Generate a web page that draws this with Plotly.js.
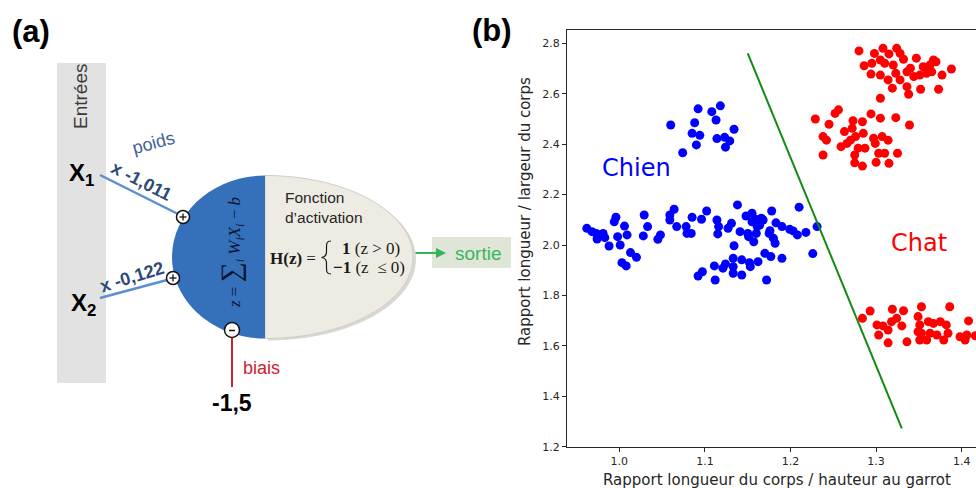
<!DOCTYPE html>
<html>
<head>
<meta charset="utf-8">
<script src="https://cdn.plot.ly/plotly-3.0.1.min.js"></script>
<style>html,body{margin:0;padding:0;background:#fff;overflow:hidden}#chart{width:976px;height:488px}</style>
</head>
<body>
<div id="chart"></div>
<script>
// ---------- Data (panel b) ----------
const dogX = [1.060,1.092,1.118,1.108,1.113,1.088,1.085,1.094,1.090,1.074,1.114,1.123,1.129,1.134,1.124,
  0.962,0.968,0.973,0.974,0.981,0.983,0.988,0.994,0.996,0.998,1.001,1.006,1.009,1.003,1.008,1.013,1.020,1.028,1.029,1.033,
  1.045,1.048,1.059,1.064,1.059,1.067,1.078,1.079,1.084,1.085,1.096,1.102,1.092,1.097,1.111,1.112,1.114,1.116,1.115,1.121,
  1.124,1.127,1.131,1.133,1.133,1.134,1.138,1.133,1.143,1.143,1.141,1.148,1.150,1.153,1.152,1.155,1.155,1.157,1.159,1.160,
  1.162,1.164,1.166,1.170,1.176,1.178,1.177,1.180,1.182,1.183,1.190,1.190,1.172,1.199,1.203,1.208,1.210,1.218,1.226,1.231,
  1.151,1.161,1.168,1.175];
const dogY = [2.476,2.540,2.552,2.529,2.496,2.485,2.443,2.435,2.397,2.366,2.422,2.427,2.413,2.459,2.388,
  2.066,2.053,2.046,2.024,2.046,2.029,1.996,2.092,2.110,2.033,2.000,2.075,2.040,1.930,1.917,1.970,1.951,2.036,2.119,2.073,
  2.023,2.040,2.119,2.142,2.099,2.073,2.073,2.046,2.046,2.110,2.102,2.135,1.877,1.894,1.917,1.861,2.099,2.073,2.044,1.908,
  1.925,2.066,2.086,1.914,1.947,1.997,2.159,1.888,1.881,1.941,2.053,2.115,2.046,1.914,1.930,2.092,2.126,2.013,2.102,2.046,
  1.934,2.079,2.106,1.967,2.057,2.135,1.954,2.027,2.007,2.088,1.947,2.073,1.861,2.062,2.056,2.040,2.150,2.050,1.966,2.073,
  2.033,2.073,2.099,2.046];

const catX = [
  1.280,1.298,1.308,1.324,1.315,1.328,1.286,1.295,1.305,1.310,1.320,1.332,1.347,1.363,1.370,1.388,1.377,1.365,
  1.294,1.305,1.314,1.323,1.336,1.344,1.351,1.319,1.336,1.338,1.352,1.373,1.305,1.340,1.355,1.328,1.367,1.359,
  1.229,1.256,1.252,1.245,1.273,1.284,1.294,1.305,1.323,1.339,1.238,1.242,1.263,1.272,1.276,1.285,1.297,1.307,
  1.314,1.259,1.266,1.279,1.287,1.299,1.303,1.310,1.325,1.238,1.275,1.275,1.284,1.300,1.315,1.270,
  1.284,1.293,1.319,1.332,1.353,1.386,1.408,1.301,1.308,1.318,1.324,1.330,1.303,1.314,1.314,1.336,1.349,1.351,
  1.361,1.367,1.375,1.382,1.353,1.351,1.363,1.371,1.379,1.384,1.398,1.406,1.404,1.359,1.349,1.416];
const catY = [
  2.770,2.760,2.780,2.780,2.758,2.760,2.711,2.721,2.734,2.721,2.714,2.737,2.741,2.714,2.727,2.698,2.674,2.687,
  2.678,2.674,2.655,2.681,2.687,2.668,2.674,2.622,2.628,2.598,2.618,2.618,2.582,2.701,2.707,2.655,2.734,2.681,
  2.500,2.536,2.522,2.479,2.493,2.489,2.520,2.503,2.505,2.476,2.430,2.416,2.450,2.463,2.430,2.443,2.423,2.430,
  2.416,2.390,2.403,2.384,2.384,2.403,2.364,2.364,2.364,2.357,2.357,2.326,2.313,2.328,2.324,2.416,
  1.709,1.738,1.745,1.739,1.755,1.755,1.699,1.683,1.679,1.696,1.709,1.679,1.643,1.663,1.612,1.616,1.716,1.683,
  1.696,1.689,1.696,1.683,1.650,1.623,1.650,1.643,1.623,1.650,1.636,1.643,1.623,1.623,1.656,1.640];

const boundaryX = [1.150, 1.330];
const boundaryY = [2.760, 1.273];

const xTickVals = [1.0, 1.1, 1.2, 1.3, 1.4];
const xTickText = ['1.0', '1.1', '1.2', '1.3', '1.4'];
const yTickVals = [1.2, 1.4, 1.6, 1.8, 2.0, 2.2, 2.4, 2.6, 2.8];
const yTickText = ['1.2', '1.4', '1.6', '1.8', '2.0', '2.2', '2.4', '2.6', '2.8'];

const xTitle = 'Rapport longueur du corps / hauteur au garrot';
const yTitle = 'Rapport longueur / largeur du corps';

// ---------- Panel (a) diagram ----------
const SANS = 'Liberation Sans, Arial, sans-serif';
const SERIF = 'Liberation Serif, Times New Roman, serif';
const DJ = 'DejaVu Sans, sans-serif';

function shp(o) { return Object.assign({xref: 'x2', yref: 'y2', layer: 'above'}, o); }
function circ(cx, cy, r) {
  return shp({type: 'circle', x0: cx - r, x1: cx + r, y0: cy - r, y1: cy + r,
    fillcolor: '#ffffff', line: {color: '#111', width: 1.5}});
}
function seg(x0, y0, x1, y1, color, w) {
  return shp({type: 'line', x0: x0, y0: y0, x1: x1, y1: y1, line: {color: color, width: w}});
}

const shapes = [
  shp({type: 'rect', x0: 57, x1: 106, y0: 63, y1: 383, fillcolor: '#e2e2e2', line: {width: 0}}),
  seg(100, 175, 178, 214, '#5b8fd0', 2.5),
  seg(100, 298, 167, 280, '#5b8fd0', 2.5),
  shp({type: 'path', path: 'M 268,177.5 C 349.7,177.5 416,214 416,259 C 416,304 349.7,340.5 268,340.5 Z',
    fillcolor: '#d9d9d4', line: {width: 0}}),
  shp({type: 'path', path: 'M 265,175.5 C 346.7,175.5 413,212 413,257 C 413,302 346.7,338.5 265,338.5 Z',
    fillcolor: '#eeece2', line: {color: '#cfcec6', width: 1}}),
  shp({type: 'path', path: 'M 265,175.5 C 213.6,175.5 172,212 172,257 C 172,302 213.6,338.5 265,338.5 Z',
    fillcolor: '#3571bb', line: {width: 0}}),
  shp({type: 'path', path: 'M 331,241 C 327,241 326.5,243 326.5,247 L 326.5,252 C 326.5,255 325,257 321.5,257.5 C 325,258 326.5,260 326.5,263 L 326.5,268 C 326.5,272 327,274 331,274',
    line: {color: '#1a1a1a', width: 1.2}}),
  circ(183, 217, 6.5), seg(179.5, 217, 186.5, 217, '#111', 1.3), seg(183, 213.5, 183, 220.5, '#111', 1.3),
  circ(173, 278, 6.5), seg(169.5, 278, 176.5, 278, '#111', 1.3), seg(173, 274.5, 173, 281.5, '#111', 1.3),
  circ(232, 330, 7.5), seg(229, 330.5, 235, 330.5, '#111', 1.5),
  seg(232, 337.5, 232, 387, '#c4262e', 2),
  shp({type: 'rect', x0: 432, x1: 511, y0: 237, y1: 268, fillcolor: '#dfe6d7', line: {width: 0}})
];

function ann(x, y, text, size, color, family, extra) {
  return Object.assign({xref: 'x2', yref: 'y2', x: x, y: y, text: text, showarrow: false,
    xanchor: 'center', yanchor: 'middle', font: {size: size, color: color, family: family}}, extra || {});
}

const annotations = [
  ann(31, 31, '<b>(a)</b>', 31, '#000', SANS),
  ann(492, 30, '<b>(b)</b>', 31, '#000', SANS),
  ann(80, 97, 'Entrées', 19, '#3a3a3a', SANS, {textangle: -90}),
  ann(81, 174, '<b>X<sub>1</sub></b>', 24, '#000', SANS),
  ann(83, 304, '<b>X<sub>2</sub></b>', 24, '#000', SANS),
  ann(153, 143, 'poids', 18, '#3f6394', SANS, {textangle: -15}),
  ann(141, 181, '<b>x -1,011</b>', 18, '#2c4a78', SANS, {textangle: 27}),
  ann(132, 277, '<b>x -0,122</b>', 18, '#2c4a78', SANS, {textangle: -17}),
  ann(231, 253, '<i>z</i> = <span style="font-size:28px">∑</span><sub><i>i</i></sub> <i>W<sub>i</sub>X<sub>i</sub></i> − <i>b</i>', 17, '#0b1430', SERIF, {textangle: -90}),
  ann(283, 197, 'Fonction', 15.5, '#262626', SANS, {xanchor: 'left'}),
  ann(283, 217, 'd’activation', 15.5, '#262626', SANS, {xanchor: 'left'}),
  ann(293, 258, '<b>H(z)</b> =', 17, '#1a1a1a', SERIF),
  ann(340, 248, '<b>1</b> (z &gt; 0)', 17, '#1a1a1a', SERIF, {xanchor: 'left'}),
  ann(331, 267, '<b>−1</b> (z  ≤ 0)', 17, '#1a1a1a', SERIF, {xanchor: 'left'}),
  {xref: 'x2', yref: 'y2', axref: 'x2', ayref: 'y2', x: 446, y: 253, ax: 414, ay: 253, text: '',
    showarrow: true, arrowhead: 2, arrowsize: 1, arrowwidth: 2, arrowcolor: '#33b35a', standoff: 0, startstandoff: 0},
  ann(478, 253, 'sortie', 19, '#3cb55e', SANS),
  ann(261, 368, 'biais', 18, '#d0202e', SANS),
  ann(232, 403, '<b>-1,5</b>', 23, '#000', SANS),
  // panel (b) texts
  {xref: 'x', yref: 'y', x: 1.0203, y: 2.304, text: 'Chien', showarrow: false, xanchor: 'center', yanchor: 'middle',
    font: {size: 24, color: '#0000ff', family: DJ}},
  {xref: 'x', yref: 'y', x: 1.3505, y: 2.007, text: 'Chat', showarrow: false, xanchor: 'center', yanchor: 'middle',
    font: {size: 24, color: '#ff0000', family: DJ}},
  ann(777, 480, xTitle, 15, '#262626', DJ),
  ann(525, 212, yTitle, 15, '#262626', DJ, {textangle: -90})
];

const traces = [
  {type: 'scatter', mode: 'markers', x: dogX, y: dogY, xaxis: 'x', yaxis: 'y',
    marker: {color: '#0000ff', size: 9, line: {width: 0}}, hoverinfo: 'skip'},
  {type: 'scatter', mode: 'markers', x: catX, y: catY, xaxis: 'x', yaxis: 'y',
    marker: {color: '#ff0000', size: 9, line: {width: 0}}, hoverinfo: 'skip'},
  {type: 'scatter', mode: 'lines', x: boundaryX, y: boundaryY, xaxis: 'x', yaxis: 'y',
    line: {color: '#138a13', width: 2}, hoverinfo: 'skip'},
  {type: 'scatter', mode: 'markers', x: [], y: [], xaxis: 'x2', yaxis: 'y2', hoverinfo: 'skip'}
];

const tickFont = {family: DJ, size: 11, color: '#262626'};

const layout = {
  width: 976, height: 488,
  margin: {l: 0, r: 0, t: 0, b: 0, pad: 0},
  paper_bgcolor: '#ffffff', plot_bgcolor: 'rgba(0,0,0,0)',
  showlegend: false,
  xaxis: {domain: [0.581, 1], range: [0.9389, 1.4167], tickvals: xTickVals, ticktext: xTickText,
    ticks: 'outside', ticklen: 4, tickwidth: 1, tickcolor: '#262626', showline: true, linecolor: '#262626',
    linewidth: 1.2, mirror: true, showgrid: false, zeroline: false, tickfont: tickFont, anchor: 'y', fixedrange: true},
  yaxis: {domain: [0.084, 0.9385], range: [1.1987, 2.8528], tickvals: yTickVals, ticktext: yTickText,
    ticks: 'outside', ticklen: 4, tickwidth: 1, tickcolor: '#262626', showline: true, linecolor: '#262626',
    linewidth: 1.2, showgrid: false, zeroline: false, tickfont: tickFont, anchor: 'x', fixedrange: true},
  xaxis2: {domain: [0, 1], range: [0, 976], visible: false, anchor: 'y2', fixedrange: true},
  yaxis2: {domain: [0, 1], range: [488, 0], visible: false, anchor: 'x2', fixedrange: true},
  shapes: shapes,
  annotations: annotations
};

Plotly.newPlot('chart', traces, layout, {staticPlot: true, displayModeBar: false});
</script>
</body>
</html>
